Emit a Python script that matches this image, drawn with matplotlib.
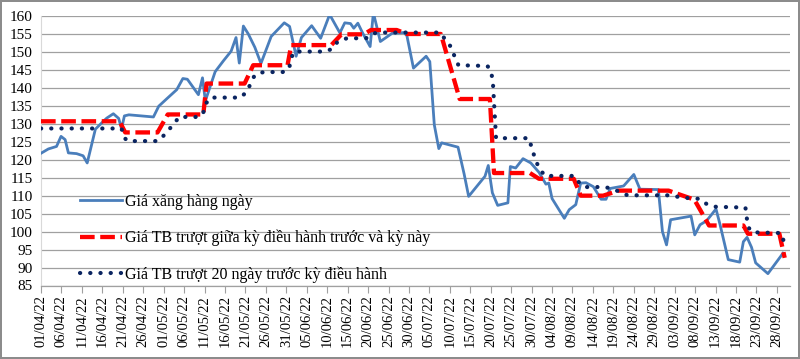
import matplotlib
matplotlib.use("Agg")
import matplotlib.pyplot as plt
from datetime import datetime

plt.rcParams['font.family'] = ['Liberation Serif', 'DejaVu Serif']

# ---- data (x = days since 01/04/2022) ----
tick_labels = ["01/04/22", "06/04/22", "11/04/22", "16/04/22", "21/04/22", "26/04/22",
               "01/05/22", "06/05/22", "11/05/22", "16/05/22", "21/05/22", "26/05/22",
               "31/05/22", "05/06/22", "10/06/22", "15/06/22", "20/06/22", "25/06/22",
               "30/06/22", "05/07/22", "10/07/22", "15/07/22", "20/07/22", "25/07/22",
               "30/07/22", "04/08/22", "09/08/22", "14/08/22", "19/08/22", "24/08/22",
               "29/08/22", "03/09/22", "08/09/22", "13/09/22", "18/09/22", "23/09/22",
               "28/09/22"]

daily_x = [0, 1.8, 3.8, 4.9, 5.9, 6.7, 8.7, 10.3, 11.3, 13.3, 14.8, 16.1, 17.7, 19.0, 19.7,
           20.4, 21.5, 27.5, 28.8, 30.7, 33.2, 34.7, 35.8, 38.5, 39.5, 40.2, 42.6, 44.6,
           46.5, 47.7, 48.5, 49.5, 50.7, 52.3, 53.8, 56.3, 59.5, 60.8, 62.4, 63.7, 66.2,
           68.4, 70.6, 73.1, 74.3, 75.7, 76.5, 77.5, 78.7, 80.5, 81.3, 83.0, 85.9, 88.8,
           89.5, 91.1, 94.2, 95.1, 96.2, 97.3, 98.0, 102.0, 103.5, 104.6, 108.6, 109.4,
           110.4, 111.7, 114.2, 114.8, 116.1, 117.9, 119.8, 121.8, 123.5, 124.2, 125.0,
           128.0, 129.2, 130.8, 132.0, 133.3, 135.1, 137.0, 138.2, 139.2, 142.5, 145.0,
           146.5, 151.0, 152.0, 153.0, 154.0, 159.0, 159.9, 161.2, 162.8, 165.1, 166.1,
           168.1, 170.9, 171.8, 172.7, 173.8, 174.8, 177.8, 181.5]
daily_price = [121.8, 123.0, 123.7, 126.5, 125.6, 121.9, 121.7, 121.1, 119.1, 128.5, 130.2,
               131.6, 132.8, 131.5, 128.6, 132.2, 132.5, 131.9, 134.9, 136.9, 139.5, 142.6,
               142.4, 138.1, 142.8, 136.4, 144.5, 147.5, 150.2, 154.0, 146.9, 157.2, 155.0,
               151.3, 146.8, 154.3, 158.1, 157.1, 148.8, 154.0, 157.3, 153.8, 160.4, 155.3,
               158.1, 157.9, 156.6, 158.0, 155.2, 151.5, 160.9, 152.9, 155.2, 155.4, 154.5,
               145.5, 148.8, 147.3, 129.7, 123.1, 124.7, 123.5, 116.0, 109.8, 115.4, 118.4,
               110.8, 107.3, 108.0, 118.1, 117.7, 120.3, 119.1, 116.5, 113.2, 113.5, 109.2,
               103.7, 106.1, 107.5, 113.5, 113.6, 112.5, 109.0, 109.0, 112.0, 112.7, 115.9,
               111.8, 111.7, 100.0, 96.3, 103.3, 104.3, 99.1, 101.9, 103.0, 106.3, 101.9,
               92.2, 91.5, 97.2, 98.4, 95.6, 91.3, 88.3, 94.0]

mid_x = [0, 19.2, 20.6, 28.5, 31.0, 39.7, 40.5, 49.8, 51.9, 60.3, 61.2, 71.0, 73.5, 79.0,
         80.7, 87.0, 89.5, 97.8, 102.4, 109.8, 110.8, 119.6, 121.8, 130.3, 132.0, 137.5,
         141.3, 153.5, 156.5, 159.8, 163.4, 171.8, 172.9, 180.6, 181.9]
mid_avg = [130.7, 130.7, 127.6, 127.6, 132.6, 132.6, 141.2, 141.2, 146.3, 146.3, 151.9,
           151.9, 154.9, 154.9, 156.1, 156.1, 155.0, 155.0, 136.9, 136.9, 116.3, 116.3,
           114.7, 114.7, 110.0, 110.0, 111.4, 111.4, 110.2, 108.9, 101.7, 101.7, 99.4,
           99.4, 92.7]

pre20_x = [0, 19.7, 20.3, 21.2, 28.3, 29.2, 32.3, 33.8, 38.7, 39.9, 40.3, 41.5, 48.8, 50.4,
           51.3, 52.3, 54.4, 59.1, 60.7, 61.1, 61.9, 69.5, 71.1, 72.6, 74.8, 79.5, 81.1,
           82.5, 97.6, 99.0, 100.2, 101.0, 102.1, 109.2, 110.0, 110.5, 111.3, 119.3, 119.8,
           120.4, 121.2, 121.9, 123.3, 130.4, 131.6, 133.0, 137.9, 140.1, 142.3, 143.5,
           154.2, 156.4, 161.2, 163.0, 165.1, 172.3, 172.6, 173.0, 174.0, 181.0, 181.8]
pre20_avg = [128.7, 128.7, 126.2, 125.2, 125.2, 125.7, 129.7, 131.9, 131.9, 133.5, 135.6,
             137.3, 137.3, 139.0, 141.3, 143.6, 144.4, 144.4, 145.3, 148.0, 150.1, 150.1,
             150.8, 152.9, 153.8, 153.8, 155.1, 155.4, 155.4, 153.3, 151.5, 149.2, 146.3,
             146.1, 144.7, 142.2, 126.0, 126.0, 124.2, 121.9, 119.3, 117.5, 115.5, 115.5,
             113.7, 112.4, 112.4, 111.8, 110.6, 110.1, 110.1, 109.5, 109.1, 107.5, 106.9,
             106.7, 104.0, 101.2, 99.8, 99.6, 96.9]

series_labels = ["Giá xăng hàng ngày",
                 "Giá TB trượt giữa kỳ điều hành trước và kỳ này",
                 "Giá TB trượt 20 ngày trước kỳ điều hành"]

# ---- figure ----
fig = plt.figure(figsize=(8.0, 3.59), dpi=100)
fig.patch.set_facecolor('white')
fig.patch.set_edgecolor('#8c8c8c')
fig.patch.set_linewidth(1.5)
ax = fig.add_axes([41 / 800, 1 - 285.5 / 359, (790 - 41) / 800, (285.5 - 16) / 359])

start = datetime(2022, 4, 1)
tick_pos = [(datetime.strptime(t, "%d/%m/%y") - start).days for t in tick_labels]

ax.plot(daily_x, daily_price, color='#4a7ebb', lw=2.0, label=series_labels[0], zorder=3)
ax.plot(mid_x, mid_avg, color='#ff0000', lw=3.1, linestyle=(0, (3.4, 1.3)),
        label=series_labels[1], zorder=4)
ax.plot(pre20_x, pre20_avg, color='#0a2460', lw=3.0, linestyle=(0, (0.05, 2.4)),
        dash_capstyle='round', label=series_labels[2], zorder=5)

ax.set_xlim(0, 183.2)
ax.set_ylim(85, 160)
ax.set_yticks(range(85, 161, 5))
ax.set_xticks(tick_pos)
ax.set_xticklabels(tick_labels, rotation=90, fontsize=10.5)
ax.tick_params(axis='y', length=0, labelsize=11, pad=6)
ax.tick_params(axis='x', length=5, width=0.8, color='#a0a0a0', pad=2)
ax.grid(axis='y', color='#a0a0a0', lw=0.9)
ax.set_axisbelow(True)
for s in ['top', 'right']:
    ax.spines[s].set_visible(False)
ax.spines['left'].set_color('#d9d9d9')
ax.spines['bottom'].set_color('#a0a0a0')
ax.spines['bottom'].set_linewidth(0.9)

leg = ax.legend(loc='upper left', bbox_to_anchor=(80 / 800, 1 - 194 / 359),
                bbox_transform=fig.transFigure, frameon=False, fontsize=11.5,
                handlelength=2.6, handletextpad=0.2, labelspacing=1.25,
                borderaxespad=0, borderpad=0)

fig.savefig("out.png", dpi=100, facecolor=fig.get_facecolor(), edgecolor=fig.get_edgecolor())
